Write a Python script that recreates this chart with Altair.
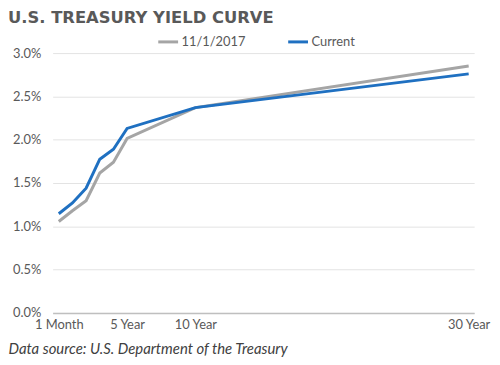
import altair as alt
import pandas as pd

# maturities in years (1 Month shown at 0)
maturity = [0, 1, 2, 3, 4, 5, 10, 30]
yield_2017 = [1.055, 1.18, 1.295, 1.615, 1.74, 2.015, 2.37, 2.85]
yield_current = [1.145, 1.27, 1.44, 1.775, 1.89, 2.13, 2.37, 2.76]
series_names = ["11/1/2017", "Current"]
tick_values = [0, 5, 10, 30]
tick_labels = ["1 Month", "5 Year", "10 Year", "30 Year"]

rows = []
for name, vals in zip(series_names, [yield_2017, yield_current]):
    for m, v in zip(maturity, vals):
        rows.append({"series": name, "maturity": m, "yield": v / 100})
df = pd.DataFrame(rows)

label_map = "{" + ",".join(f"'{v}':'{l}'" for v, l in zip(tick_values, tick_labels)) + "}"

FONT = "Lato"
TXT = "#595959"

chart = alt.Chart(df).mark_line(strokeWidth=3).encode(
    x=alt.X("maturity:Q",
            scale=alt.Scale(domain=[-0.45, 30.4], nice=False, zero=False),
            axis=alt.Axis(values=tick_values,
                          labelExpr=f"{label_map}[datum.value]",
                          grid=False, ticks=False, domainColor="#BFBFBF", domainWidth=1.5,
                          labelColor=TXT, labelFont=FONT, labelFontSize=13, labelPadding=6,
                          labelFlush=False,
                          title="Data source: U.S. Department of the Treasury",
                          titleFont=FONT, titleFontSize=15, titleFontStyle="italic",
                          titleFontWeight="normal", titleColor="#404040",
                          titleAnchor="start", titleAlign="left", titleBaseline="alphabetic",
                          titleX=-45, titleY=41)),
    y=alt.Y("yield:Q",
            scale=alt.Scale(domain=[0, 0.03], nice=False),
            axis=alt.Axis(format=".1%", values=[0, 0.005, 0.01, 0.015, 0.02, 0.025, 0.03],
                          domain=False, ticks=False, gridColor="#E3E3E3", gridWidth=1,
                          labelColor=TXT, labelFont=FONT, labelFontSize=13, labelPadding=12,
                          title=None)),
    color=alt.Color("series:N",
                    scale=alt.Scale(domain=series_names, range=["#A5A5A5", "#1F70C1"]),
                    legend=alt.Legend(orient="none", legendX=105, legendY=-23,
                                      direction="horizontal", title=None,
                                      symbolType="stroke", symbolSize=400,
                                      symbolStrokeWidth=3, labelFont=FONT,
                                      labelFontSize=13, labelColor=TXT,
                                      labelOffset=2, columnPadding=36)),
).properties(
    width=425, height=262,
    padding={"left": 45, "top": 44, "right": 18, "bottom": 43},
    autosize=alt.AutoSizeParams(type="none"),
    title=alt.TitleParams("U.S. TREASURY YIELD CURVE", anchor="start", dx=-45, dy=-4,
                          font="DejaVu Sans", fontSize=16.5, fontWeight="bold", color=TXT,
                          offset=0, frame="group"),
).configure_view(stroke=None)

chart.save("out.html", embed_options={"renderer": "svg", "actions": False})
